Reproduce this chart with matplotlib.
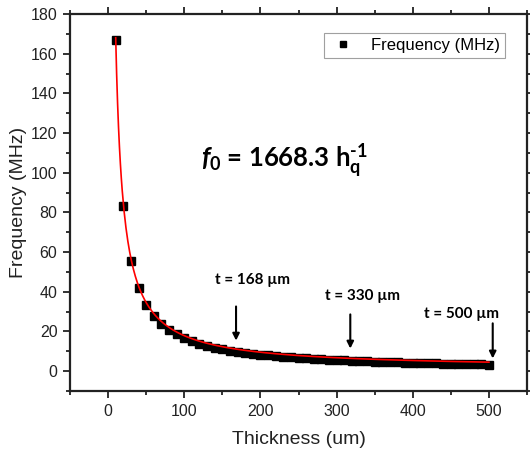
import numpy as np
import matplotlib
matplotlib.use("Agg")
import matplotlib.pyplot as plt
from matplotlib.ticker import MultipleLocator

plt.rcParams['font.family'] = ['Liberation Sans', 'DejaVu Sans']
plt.rcParams['mathtext.fontset'] = 'custom'
plt.rcParams['mathtext.rm'] = 'Lato:bold'
plt.rcParams['mathtext.it'] = 'Lato:bold:italic'
plt.rcParams['mathtext.bf'] = 'Lato:bold'

# Measured resonance frequency vs quartz thickness
thickness = [10, 20, 30, 40, 50, 60, 70, 80, 90, 100,
             110, 120, 130, 140, 150, 160, 170, 180, 190, 200,
             210, 220, 230, 240, 250, 260, 270, 280, 290, 300,
             310, 320, 330, 340, 350, 360, 370, 380, 390, 400,
             410, 420, 430, 440, 450, 460, 470, 480, 490, 500]
frequency = [166.8, 83.4, 55.6, 41.7, 33.4, 27.8, 23.8, 20.9, 18.5, 16.7,
             15.2, 13.9, 12.8, 11.9, 11.1, 10.4, 9.8, 9.3, 8.8, 8.3,
             7.9, 7.6, 7.3, 7.0, 6.7, 6.4, 6.2, 6.0, 5.8, 5.6,
             5.4, 5.2, 5.1, 4.9, 4.8, 4.6, 4.5, 4.4, 4.3, 4.2,
             4.1, 4.0, 3.9, 3.8, 3.7, 3.6, 3.5, 3.5, 3.4, 3.3]

# fit parameters (f = A / h + B)
fit_a = 1668.3
fit_b = 1.2

# arrow annotations
marks = ["t = 168 \u00b5m", "t = 330 \u00b5m", "t = 500 \u00b5m"]
mark_x = [168, 318, 505]
mark_top = [34, 30, 25.5]
mark_tip = [14, 10, 5]
label_x = [189, 334, 464]
label_y = [46, 38, 29]

fig = plt.figure(figsize=(5.30, 4.54), dpi=100)
ax = fig.add_axes([70/530, 1 - 391/454, 457/530, 377/454])

h = np.linspace(thickness[0], thickness[-1], 400)
ax.plot(h, fit_a / h + fit_b, color='red', lw=1.2, zorder=3)
ax.plot(thickness, frequency, 's', color='black', ms=5.5, zorder=2,
        label='Frequency (MHz)')

ax.set_xlim(-50, 550)
ax.set_ylim(-10, 180)
ax.xaxis.set_major_locator(MultipleLocator(100))
ax.xaxis.set_minor_locator(MultipleLocator(50))
ax.yaxis.set_major_locator(MultipleLocator(20))
ax.yaxis.set_minor_locator(MultipleLocator(10))
ax.tick_params(which='both', direction='out', top=True, right=True,
               width=1.3, colors='#222222', labelsize=11.5)
ax.tick_params(which='major', length=5, pad=4)
ax.tick_params(which='minor', length=3)
for s in ax.spines.values():
    s.set_linewidth(1.6)
    s.set_color('#222222')

ax.set_xlabel('Thickness (um)', fontsize=14, color='#222222', labelpad=9)
ax.set_ylabel('Frequency (MHz)', fontsize=14, color='#222222', labelpad=3)

leg = ax.legend(loc='upper right', fontsize=12, frameon=True, fancybox=False,
                handletextpad=0.9, borderpad=0.3, markerscale=0.75,
                handlelength=1.6, bbox_to_anchor=(0.970, 0.972))
leg.get_frame().set_edgecolor('#888888')
leg.get_frame().set_linewidth(0.8)

ax.text(122, 106, r"$f_{\mathit{0}}$ = 1668.3 h$_\mathrm{q}^{\text{-1}}$",
        fontsize=18.5, family='Lato', fontweight='bold', va='center', ha='left')

for label, x, y0, y1, tx, ty in zip(marks, mark_x, mark_top, mark_tip,
                                    label_x, label_y):
    ax.annotate('', xy=(x, y1), xytext=(x, y0),
                arrowprops=dict(arrowstyle='-|>', color='black', lw=1.5,
                                mutation_scale=10))
    ax.text(tx, ty, label, fontsize=11, family='Lato', fontweight='bold',
            ha='center', va='center')

fig.savefig('out.png', dpi=100)
